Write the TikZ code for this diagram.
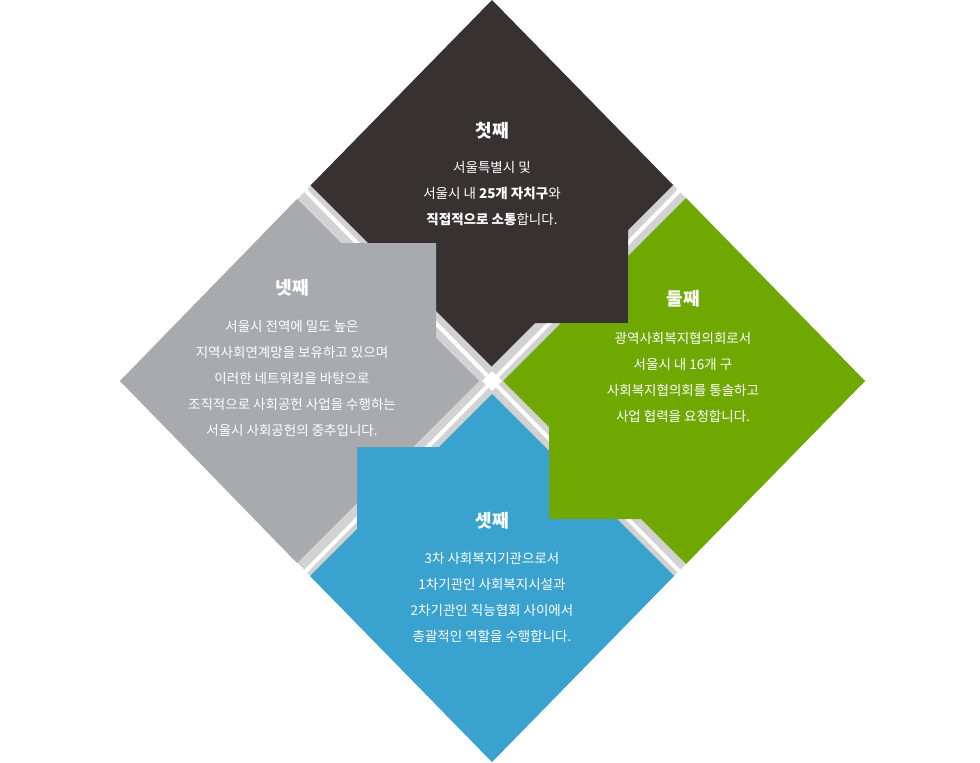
\documentclass[tikz,border=0pt]{standalone}
\usepackage{fontspec}
\setmainfont{Noto Sans CJK KR}
\usetikzlibrary{backgrounds}
\definecolor{darkpc}{HTML}{373132}
\definecolor{greenpc}{HTML}{6FA800}
\definecolor{bluepc}{HTML}{3AA2CF}
\definecolor{graypc}{HTML}{A9AAAE}
\tikzset{
  piece/.style={draw=none},
  title/.style={text=white, font=\fontsize{18}{20}\selectfont\bfseries},
  body/.style={text=white, align=center, font=\fontsize{13.5}{26}\selectfont}
}

\begin{document}
\begin{tikzpicture}[x=1pt, y=-1pt]
   \useasboundingbox (0,0) rectangle (980,763);

   % gaps
   \fill[gray!35] (492,0) -- (865,381) -- (492,762) -- (120,381) -- cycle;
   \draw[white, line width=4pt] (305,190) -- (680,572);
   \draw[white, line width=4pt] (680,190) -- (305,572);
   \fill[white] (492,371) -- (502,381) -- (492,391) -- (482,381) -- cycle;

   % pieces
   \fill[piece, darkpc] (492,0) -- (673,185) -- (628,230) -- (628,323) -- (535,323) -- (491.5,366.5)
        -- (436,311) -- (436,243) -- (368,243) -- (310.5,185.5) -- cycle;
   \fill[piece, greenpc] (865,381) -- (686,564) -- (641,519) -- (549,519) -- (549,427) -- (503,381)
        -- (561,323) -- (628,323) -- (628,256) -- (686,198) -- cycle;
   \fill[piece, bluepc] (492,762) -- (310,576) -- (357,529) -- (357,447) -- (439,447) -- (492,394)
        -- (549,451) -- (549,519) -- (617,519) -- (674,576) -- cycle;
   \fill[piece, graypc] (120,381) -- (297,199) -- (341,243) -- (436,243) -- (436,338) -- (479,381)
        -- (413,447) -- (357,447) -- (357,503) -- (297,563) -- cycle;

   % texts
   \node[title] (first) at (492,131) {첫째};
   \node[body] (firsttxt) at (492,194) {서울특별시 및\\서울시 내 \textbf{25개 자치구}와\\\textbf{직접적으로 소통}합니다.};
   \node[title] (second) at (683,299) {둘째};
   \node[body] (secondtxt) at (683,377) {광역사회복지협의회로서\\서울시 내 16개 구\\사회복지협의회를 통솔하고\\사업 협력을 요청합니다.};
   \node[title] (third) at (492,521) {셋째};
   \node[body] (thirdtxt) at (492,597) {3차 사회복지기관으로서\\1차기관인 사회복지시설과\\2차기관인 직능협회 사이에서\\총괄적인 역할을 수행합니다.};
   \node[title] (fourth) at (292,288) {넷째};
   \node[body] (fourthtxt) at (292,378) {서울시 전역에 밀도 높은\\지역사회연계망을 보유하고 있으며\\이러한 네트워킹을 바탕으로\\조직적으로 사회공헌 사업을 수행하는\\서울시 사회공헌의 중추입니다.};
\end{tikzpicture}
\end{document}
